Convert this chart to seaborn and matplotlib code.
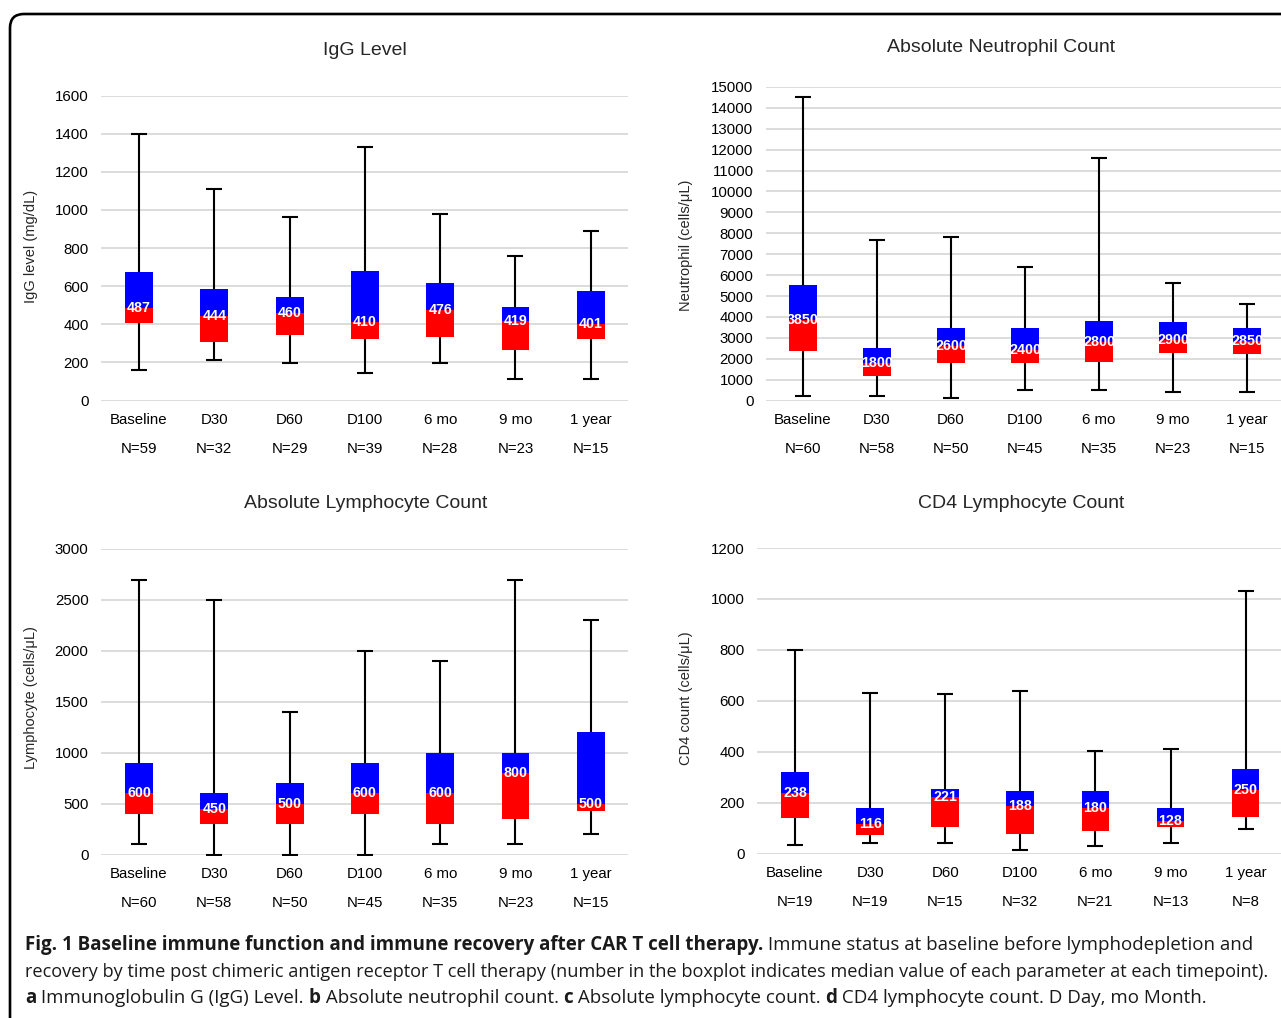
import numpy as np
import matplotlib
matplotlib.use('Agg')
import matplotlib.pyplot as plt
import matplotlib.patches as mpatches
import matplotlib.transforms as mtransforms
import seaborn as sns

# data
timepoints = ['Baseline', 'D30', 'D60', 'D100', '6 mo', '9 mo', '1 year']

igg_n = [59, 32, 29, 39, 28, 23, 15]
igg_min = [162, 213, 199, 145, 196, 114, 114]
igg_q1 = [407, 306, 342, 323, 332, 264, 323]
igg_med = [487, 444, 460, 410, 476, 419, 401]
igg_q3 = [676, 583, 543, 681, 615, 491, 573]
igg_max = [1397, 1111, 961, 1331, 976, 760, 889]

anc_n = [60, 58, 50, 45, 35, 23, 15]
anc_min = [200, 200, 100, 500, 500, 400, 400]
anc_q1 = [2370, 1150, 1815, 1815, 1860, 2290, 2210]
anc_med = [3850, 1800, 2600, 2400, 2800, 2900, 2850]
anc_q3 = [5550, 2530, 3470, 3470, 3790, 3740, 3470]
anc_max = [14500, 7700, 7800, 6400, 11600, 5600, 4600]

alc_n = [60, 58, 50, 45, 35, 23, 15]
alc_min = [100, 0, 0, 0, 100, 100, 200]
alc_q1 = [400, 300, 300, 400, 300, 350, 425]
alc_med = [600, 450, 500, 600, 600, 800, 500]
alc_q3 = [900, 600, 700, 900, 1000, 1000, 1200]
alc_max = [2700, 2500, 1400, 2000, 1900, 2700, 2300]

cd4_n = [19, 19, 15, 32, 21, 13, 8]
cd4_min = [35, 40, 40, 15, 28, 42, 96]
cd4_q1 = [140, 72, 105, 75, 88, 105, 145]
cd4_med = [238, 116, 221, 188, 180, 128, 250]
cd4_q3 = [320, 180, 255, 245, 245, 180, 333]
cd4_max = [800, 630, 625, 640, 403, 410, 1030]

W, H = 1281, 1018

sns.set_theme(style='whitegrid')
plt.rcParams['font.family'] = ['Liberation Sans', 'DejaVu Sans']
plt.rcParams['grid.color'] = '#d9d9d9'
plt.rcParams['grid.linewidth'] = 1.3

fig = plt.figure(figsize=(W / 100, H / 100), dpi=100)
fig.patch.set_facecolor('white')


def fx(x):
    return x / W


def fy(y):
    return 1 - y / H


def panel(left, right, y0, ytop, c0, step, ymax, ytick_step,
          q1, med, q3, lo, hi, ns, title, tpos, ylab, ylpos):
    ax = fig.add_axes([fx(left), fy(y0), (right - left) / W, (y0 - ytop) / H])
    low = np.array(med) - np.array(q1)
    up = np.array(q3) - np.array(med)
    # whiskers min -> max
    ax.errorbar(range(len(timepoints)), med,
                yerr=[np.array(med) - np.array(lo), np.array(hi) - np.array(med)],
                fmt='none', ecolor='black', elinewidth=1.5, capsize=5.5,
                capthick=1.5, zorder=2)
    sns.barplot(x=timepoints, y=low, bottom=q1, color='#ff0000', saturation=1,
                width=0.37, errorbar=None, linewidth=0, ax=ax, zorder=3)
    sns.barplot(x=timepoints, y=up, bottom=med, color='#0000ff', saturation=1,
                width=0.37, errorbar=None, linewidth=0, ax=ax, zorder=3)
    for i, m in enumerate(med):
        ax.text(i, m, str(m), ha='center', va='center', color='white',
                fontsize=10.3, fontweight='bold', zorder=4)
    ax.set_ylim(0, ymax)
    ax.set_yticks(np.arange(0, ymax + 1, ytick_step))
    ax.set_xlim((left - c0) / step, (right - c0) / step)
    ax.set_xticks(range(len(timepoints)))
    ax.set_xticklabels([f'{t}\nN={n}' for t, n in zip(timepoints, ns)],
                       linespacing=2.35)
    ax.tick_params(axis='both', length=0, labelsize=10.8, colors='black')
    ax.tick_params(axis='y', pad=9)
    ax.tick_params(axis='x', pad=9)
    ax.grid(axis='x', visible=False)
    ax.set_axisbelow(True)
    for s in ax.spines.values():
        s.set_visible(False)
    ax.set_facecolor('none')
    ax.set_xlabel('')
    ax.set_ylabel('')
    fig.text(fx(tpos[0]), fy(tpos[1]), title, ha='center', va='center',
             fontsize=14)
    fig.text(fx(ylpos[0]), fy(ylpos[1]), ylab, ha='center', va='center',
             rotation=90, fontsize=10.5)
    return ax


panel(101, 628, 400.5, 95.5, 139, 75.3, 1600, 200,
      igg_q1, igg_med, igg_q3, igg_min, igg_max, igg_n,
      'IgG Level', (365, 51), 'IgG level (mg/dL)', (31, 246))
panel(766, 1295, 400.5, 87, 803, 74, 15000, 1000,
      anc_q1, anc_med, anc_q3, anc_min, anc_max, anc_n,
      'Absolute Neutrophil Count', (1001, 48), 'Neutrophil (cells/μL)', (686, 245))
panel(101, 628, 854.5, 549, 139, 75.3, 3000, 500,
      alc_q1, alc_med, alc_q3, alc_min, alc_max, alc_n,
      'Absolute Lymphocyte Count', (366, 503), 'Lymphocyte (cells/μL)', (31, 698))
panel(757, 1295, 853.5, 548, 795, 75.1, 1200, 200,
      cd4_q1, cd4_med, cd4_q3, cd4_min, cd4_max, cd4_n,
      'CD4 Lymphocyte Count', (1021, 503), 'CD4 count (cells/μL)', (686, 698))

# rounded frame round the figure (right and bottom edges run off the image)
frame = mpatches.FancyBboxPatch((10, -60), 1400, H - 14 + 60,
                                boxstyle='round,pad=0,rounding_size=14',
                                fill=False, edgecolor='black', linewidth=1.9,
                                transform=mtransforms.IdentityTransform())
fig.add_artist(frame)

# caption, mixed bold / regular runs
renderer = fig.canvas.get_renderer()
cap_lines = [
    [('Fig. 1 Baseline immune function and immune recovery after CAR T cell therapy.', 'bold'),
     (' Immune status at baseline before lymphodepletion and', 'normal')],
    [('recovery by time post chimeric antigen receptor T cell therapy (number in the boxplot '
      'indicates median value of each parameter at each timepoint).', 'normal')],
    [('a', 'bold'), (' Immunoglobulin G (IgG) Level. ', 'normal'),
     ('b', 'bold'), (' Absolute neutrophil count. ', 'normal'),
     ('c', 'bold'), (' Absolute lymphocyte count. ', 'normal'),
     ('d', 'bold'), (' CD4 lymphocyte count. D Day, mo Month.', 'normal')],
]
cap_y = [945, 972, 998]
cap_sizes = [13.5, 13.1, 13.5]
for line, y, size in zip(cap_lines, cap_y, cap_sizes):
    x = 25
    for txt, wt in line:
        t = fig.text(fx(x), fy(y), txt, ha='left', va='center', fontsize=size,
                     fontweight=wt, family=['Open Sans', 'DejaVu Sans'], color='#1a1a1a')
        x += t.get_window_extent(renderer).width

fig.savefig('out.png', dpi=100)
